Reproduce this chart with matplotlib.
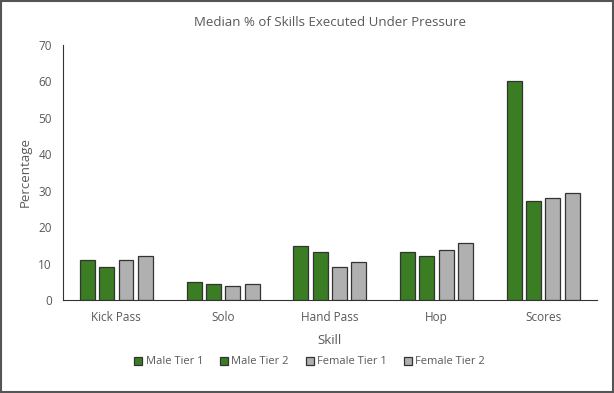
import numpy as np
import matplotlib
matplotlib.use("Agg")
from matplotlib import pyplot as plt
from matplotlib.patches import Rectangle

skills = ["Kick Pass", "Solo", "Hand Pass", "Hop", "Scores"]
series = ["Male Tier 1", "Male Tier 2", "Female Tier 1", "Female Tier 2"]
male_t1 = [11.0, 4.9, 14.9, 13.3, 60.0]
male_t2 = [9.1, 4.3, 13.1, 12.1, 27.2]
female_t1 = [11.0, 3.9, 9.0, 13.6, 27.9]
female_t2 = [12.2, 4.3, 10.4, 15.7, 29.5]

green = "#3b7d23"
grey = "#b0b0b0"
txt = "#595959"

plt.rcParams['font.family'] = ['Open Sans', 'DejaVu Sans']

fig = plt.figure(figsize=(6.14, 3.93), dpi=100)
ax = fig.add_axes([0.1026, 0.2366, 0.869, 0.649])

x = np.arange(len(skills))
step = 0.181
width = 0.14
vals = [male_t1, male_t2, female_t1, female_t2]
cols = [green, green, grey, grey]
for i in range(4):
    ax.bar(x + (i - 1.5) * step, vals[i], width, color=cols[i],
           edgecolor="#333333", linewidth=0.9, label=series[i])

ax.set_xlim(-0.5, 4.5)
ax.set_ylim(0, 70)
ax.set_yticks(range(0, 71, 10))
ax.set_xticks(x)
ax.set_xticklabels(skills)
ax.tick_params(length=0, colors=txt, labelsize=8.5)
ax.tick_params(axis="y", pad=8)
ax.tick_params(axis="x", pad=8)
for s in ["top", "right"]:
    ax.spines[s].set_visible(False)
ax.spines["left"].set_color("#333333")
ax.spines["bottom"].set_color("#333333")

ax.set_title("Median % of Skills Executed Under Pressure", color=txt,
             fontsize=9.5, pad=14)
ax.set_xlabel("Skill", color=txt, fontsize=9.5, labelpad=7)
ax.set_ylabel("Percentage", color=txt, fontsize=9.5, labelpad=5)

leg = fig.legend(loc="center", bbox_to_anchor=(0.504, 0.079), ncol=4,
                 frameon=False, fontsize=8, handlelength=0.75,
                 handleheight=0.75, handletextpad=0.3, columnspacing=1.5)
for t in leg.get_texts():
    t.set_color(txt)

fig.patches.append(Rectangle((0.001, 0.002), 0.997, 0.995,
                             transform=fig.transFigure, fill=False,
                             edgecolor="#555555", linewidth=1.5))

plt.savefig("out.png", dpi=100)
